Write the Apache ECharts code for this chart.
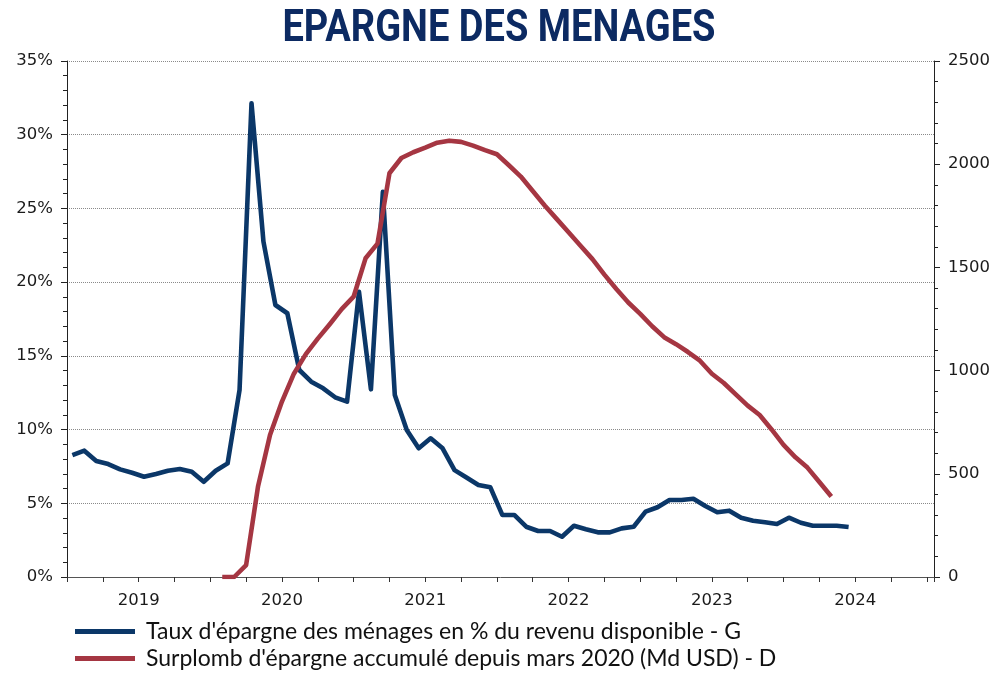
<!DOCTYPE html>
<html><head><meta charset="utf-8">
<script src="https://cdn.jsdelivr.net/npm/echarts@6/dist/echarts.min.js"></script>
<style>html,body{margin:0;padding:0;background:#fff}#c{width:993px;height:673px}</style>
</head><body><div id="c"></div>
<script>
// X axis: months since January 2019
const firstYear = 2019;
const yearLabels = ['2019', '2020', '2021', '2022', '2023', '2024'];
const axisMonths = 72.6;

// Taux d'épargne des ménages (% du revenu disponible), monthly Jan 2019 - Jun 2024 (mid-month dates)
const savingRate = [
  8.27, 8.57, 7.87, 7.66, 7.30, 7.07, 6.80, 6.99, 7.21, 7.33, 7.14, 6.46,
  7.21, 7.71, 12.7, 32.13, 22.75, 18.45, 17.89, 14.04, 13.25, 12.80, 12.19, 11.89,
  19.35, 12.73, 26.13, 12.34, 9.97, 8.73, 9.41, 8.73, 7.25, 6.75, 6.24, 6.08,
  4.21, 4.21, 3.41, 3.12, 3.12, 2.73, 3.48, 3.24, 3.03, 3.03, 3.30, 3.41,
  4.43, 4.73, 5.22, 5.22, 5.31, 4.82, 4.39, 4.50, 4.02, 3.82, 3.71, 3.59,
  4.02, 3.68, 3.48, 3.48, 3.48, 3.39
];
const savingRateDay = 0.45; // plotted on the 15th of each month

// Surplomb d'épargne accumulé depuis mars 2020 (Md USD), monthly Feb 2020 - May 2024 (1st of month)
const excessSavingsStart = 13; // February 2020
const excessSavings = [
  0, 0, 58, 440, 688, 850, 985, 1080, 1155, 1225, 1298,
  1358, 1544, 1615, 1956, 2030, 2058, 2080, 2104, 2114, 2108, 2090, 2068,
  2048, 1995, 1940, 1870, 1800, 1735, 1670, 1605, 1540, 1465, 1395, 1330,
  1275, 1215, 1162, 1128, 1090, 1048, 985, 940, 885, 830, 785, 715,
  640, 580, 530, 460, 390
];

const seriesNames = [
  "Taux d'épargne des ménages en % du revenu disponible - G",
  "Surplomb d'épargne accumulé depuis mars 2020 (Md USD) - D"
];
const titleText = 'EPARGNE DES MENAGES';

const axisFont = {fontFamily: 'DejaVu Sans', fontSize: 16.5, color: '#1a1a1a'};
const legendBase = {
  orient: 'horizontal',
  left: 75,
  padding: 0,
  icon: 'rect',
  itemWidth: 60,
  itemHeight: 5,
  textStyle: {fontFamily: 'Lato', fontSize: 23, color: '#111', padding: [0, 0, 0, 6]}
};

const chart = echarts.init(document.getElementById('c'), null, {renderer: 'canvas'});
chart.setOption({
  animation: false,
  backgroundColor: '#fff',
  graphic: [{
    type: 'text',
    x: 499,
    y: 30,
    scaleX: 0.845,
    style: {
      text: titleText,
      fontFamily: 'Roboto',
      fontWeight: 'bold',
      fontSize: 45,
      fill: '#0c2a62',
      align: 'center',
      verticalAlign: 'middle'
    }
  }],
  grid: {left: 67, right: 59, top: 61, bottom: 96, containLabel: false},
  legend: [
    Object.assign({top: 620, data: [seriesNames[0]]}, legendBase),
    Object.assign({top: 647, data: [seriesNames[1]]}, legendBase)
  ],
  xAxis: {
    type: 'value',
    min: 0,
    max: axisMonths,
    interval: 3,
    axisLine: {show: true, lineStyle: {color: '#555', width: 1}},
    axisTick: {show: true, length: 5, lineStyle: {color: '#333'}},
    splitLine: {show: false},
    axisLabel: Object.assign({
      margin: 15,
      showMaxLabel: true,
      formatter: v => {
        const k = Math.round(v);
        if (Math.abs(v - k) > 1e-6) return '';
        if (k % 12 !== 6) return '';
        return yearLabels[(k - 6) / 12] || '';
      }
    }, axisFont)
  },
  yAxis: [{
    type: 'value',
    position: 'left',
    min: 0, max: 35, interval: 5,
    axisLine: {show: true, lineStyle: {color: '#222', width: 1}},
    axisTick: {show: true, length: 6, lineStyle: {color: '#222'}},
    minorTick: {show: true, splitNumber: 5, length: 4, lineStyle: {color: '#222'}},
    splitLine: {show: true, lineStyle: {type: 'dotted', color: '#8a8a8a', width: 1}},
    axisLabel: Object.assign({margin: 14, formatter: v => v + '%'}, axisFont)
  }, {
    type: 'value',
    position: 'right',
    min: 0, max: 2500, interval: 500,
    axisLine: {show: true, lineStyle: {color: '#222', width: 1}},
    axisTick: {show: true, length: 6, lineStyle: {color: '#222'}},
    minorTick: {show: true, splitNumber: 5, length: 4, lineStyle: {color: '#222'}},
    splitLine: {show: false},
    axisLabel: Object.assign({margin: 14, formatter: v => String(v)}, axisFont)
  }],
  series: [{
    name: seriesNames[0],
    type: 'line',
    yAxisIndex: 0,
    symbol: 'none',
    color: '#0b3768',
    lineStyle: {width: 4.6, color: '#0b3768', join: 'round'},
    data: savingRate.map((v, i) => [i + savingRateDay, v])
  }, {
    name: seriesNames[1],
    type: 'line',
    yAxisIndex: 1,
    symbol: 'none',
    color: '#a53642',
    lineStyle: {width: 4.6, color: '#a53642', join: 'round'},
    data: excessSavings.map((v, k) => [k + excessSavingsStart, v])
  }]
});
</script></body></html>
